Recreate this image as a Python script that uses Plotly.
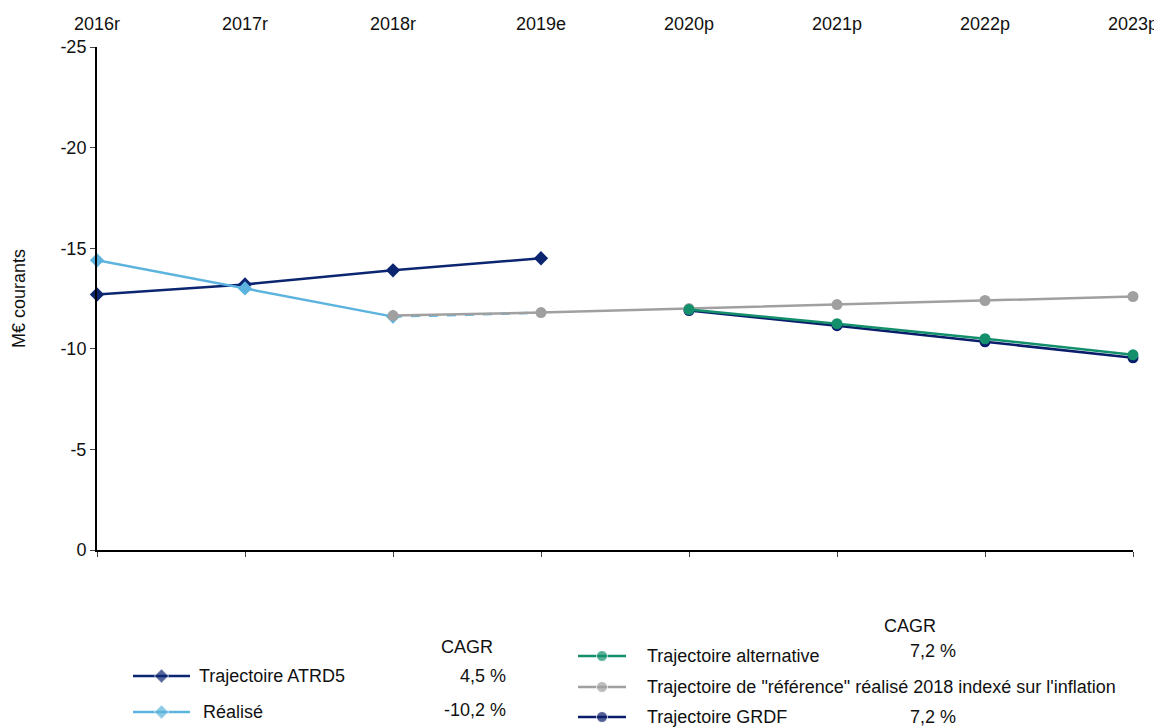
import plotly.graph_objects as go

YEARS = ["2016r", "2017r", "2018r", "2019e", "2020p", "2021p", "2022p", "2023p"]
Y_TICKS = [0, -5, -10, -15, -20, -25]
Y_TICK_TEXT = ["0", "-5", "-10", "-15", "-20", "-25"]

ATRD5 = [-12.7, -13.2, -13.9, -14.5, None, None, None, None]
REALISE = [-14.4, -13.0, -11.6, None, None, None, None, None]
REALISE_EST = [None, None, -11.6, -11.8, None, None, None, None]
REFERENCE = [None, None, -11.65, -11.8, -12.0, -12.2, -12.4, -12.6]
ALTERNATIVE = [None, None, None, None, -11.95, -11.25, -10.5, -9.7]
GRDF = [None, None, None, None, -11.9, -11.15, -10.35, -9.55]

CAGR_LEFT = ["4,5 %", "-10,2 %"]
CAGR_RIGHT = ["7,2 %", "7,2 %"]

NAVY = "#0B2570"
LIGHT_BLUE = "#5BB3DE"
GREY = "#A0A0A0"
GREEN = "#138F6C"
GRDF_NAVY = "#0A1D6B"
FONT = "Liberation Sans, Arial, sans-serif"
FS = 18

fig = go.Figure()


def series(y, color, symbol, size, dash="solid"):
    return go.Scatter(
        x=YEARS, y=y, mode="lines+markers", showlegend=False,
        line=dict(color=color, width=2.5, dash=dash),
        marker=dict(color=color, symbol=symbol, size=size),
        cliponaxis=False, connectgaps=False,
    )


fig.add_trace(series(ATRD5, NAVY, "diamond", 11))
fig.add_trace(series(REALISE, LIGHT_BLUE, "diamond", 11))
fig.add_trace(go.Scatter(x=YEARS, y=REALISE_EST, mode="lines", showlegend=False,
                         line=dict(color=LIGHT_BLUE, width=2.5, dash="dash")))
fig.add_trace(series(GRDF, GRDF_NAVY, "circle", 11))
fig.add_trace(series(REFERENCE, GREY, "circle", 11))
fig.add_trace(series(ALTERNATIVE, GREEN, "circle", 11))

# bottom axis line with tick marks (labels live on the top axis)
fig.add_trace(go.Scatter(x=YEARS, y=[None] * len(YEARS), xaxis="x3", showlegend=False))

# hand-built legend, drawn in a page-pixel helper axis under the plot
legend_items = [
    (133, 190, 676, NAVY, "diamond", "Trajectoire ATRD5", 197),
    (133, 190, 712, LIGHT_BLUE, "diamond", "Réalisé", 201),
    (578, 626, 656, GREEN, "circle", "Trajectoire alternative", 645),
    (578, 626, 687, GREY, "circle", "Trajectoire de \"référence\" réalisé 2018 indexé sur l'inflation", 645),
    (578, 626, 717, GRDF_NAVY, "circle", "Trajectoire GRDF", 645),
]
for x0, x1, y, color, symbol, label, tx in legend_items:
    fig.add_trace(go.Scatter(
        x=[x0, (x0 + x1) / 2, x1], y=[y, y, y], xaxis="x2", yaxis="y2",
        mode="lines+markers", showlegend=False, hoverinfo="skip",
        line=dict(color=color, width=2.5),
        marker=dict(color=color, symbol=symbol, size=[0, 11, 0]),
        cliponaxis=False,
    ))
    fig.add_annotation(x=tx, y=y, xref="x2", yref="y2", text=label, showarrow=False,
                       xanchor="left", yanchor="middle", font=dict(size=FS))

texts = [
    (467, 647, "CAGR", "center"),
    (508, 676, CAGR_LEFT[0], "right"),
    (508, 710, CAGR_LEFT[1], "right"),
    (910, 626, "CAGR", "center"),
    (933, 651, CAGR_RIGHT[0], "center"),
    (933, 717, CAGR_RIGHT[1], "center"),
]
for x, y, t, anchor in texts:
    fig.add_annotation(x=x, y=y, xref="x2", yref="y2", text=t, showarrow=False,
                       xanchor=anchor, yanchor="middle", font=dict(size=FS))

# page has an 8px body margin, figure coords = page coords - 8
W, H = 1154, 719
TOP, BOTTOM = 39, 5
plot_h = H - TOP - BOTTOM
y_bottom = (H - BOTTOM - 542) / plot_h
leg_top = (H - BOTTOM - 604) / plot_h

fig.update_layout(
    width=W, height=H,
    margin=dict(l=89, r=W - 1125, t=TOP, b=BOTTOM, autoexpand=False),
    paper_bgcolor="white", plot_bgcolor="white",
    font=dict(family=FONT, size=FS, color="#111111"),
    showlegend=False,
    xaxis=dict(
        type="category", range=[0, len(YEARS) - 1], side="top",
        showline=False, showgrid=False, zeroline=False, ticks="",
        ticklabelstandoff=12, tickfont=dict(size=FS), automargin=False,
    ),
    xaxis3=dict(
        type="category", range=[0, len(YEARS) - 1], overlaying="x", side="bottom",
        anchor="y", showline=True, linecolor="black", linewidth=2,
        ticks="outside", ticklen=5, tickcolor="#444", showticklabels=False,
        showgrid=False, zeroline=False, automargin=False,
    ),
    yaxis=dict(
        domain=[y_bottom, 1], range=[0, -25], tickvals=Y_TICKS, ticktext=Y_TICK_TEXT,
        showline=True, linecolor="black", linewidth=2, ticks="outside", ticklen=5,
        tickcolor="#444", showgrid=False, zeroline=False, tickfont=dict(size=FS),
        title=dict(text="M€ courants", font=dict(size=FS), standoff=30),
        automargin=False,
    ),
    xaxis2=dict(domain=[0, 1], range=[97, 1133], visible=False, anchor="y2"),
    yaxis2=dict(domain=[0, leg_top], range=[722, 612], visible=False, anchor="x2"),
)

fig.write_html("out.html")
